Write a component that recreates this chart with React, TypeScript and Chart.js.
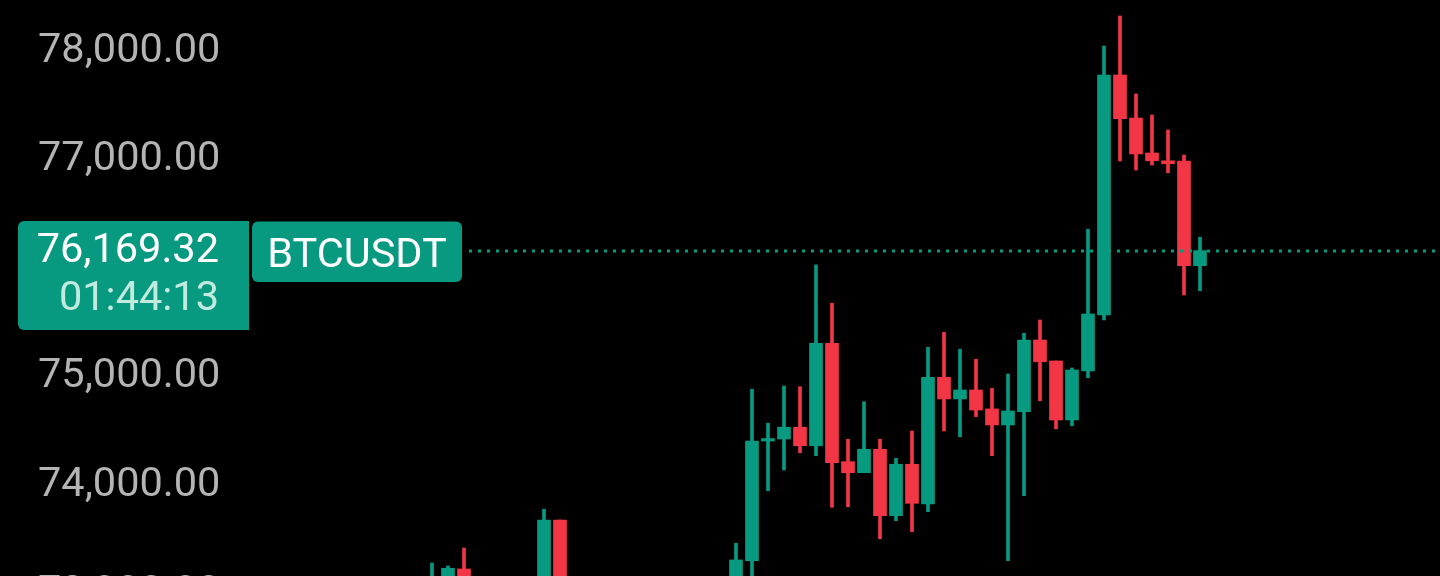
import React, { useEffect, useRef } from "react";
import { Chart, registerables } from "chart.js";

Chart.register(...registerables);

// Candle values (index 0 = leftmost candle visible in the picture)
const opens = [
  73050, 73100, 73238, 73100, 73000, 72900, 73020, 73080, 73689, 72980,
  72920, 72880, 72950, 73040, 72990, 73060, 73010, 73090, 73050, 73110,
  73314, 74417, 74436, 74544, 74374, 75318, 74227, 74125, 74341, 73729,
  74203, 73837, 75004, 74805, 74888, 74713, 74565, 74688, 75348, 75155,
  74611, 75063, 75579, 77791, 77394, 77072, 77000, 76998, 76033,
];
const highs = [
  73293, 73265, 73431, 73160, 73080, 73050, 73120, 73788, 73689, 73100,
  73050, 73000, 73100, 73150, 73080, 73140, 73120, 73160, 73150, 73475,
  74894, 74581, 74924, 74918, 76040, 75687, 74433, 74780, 74433, 74258,
  74510, 75281, 75419, 75263, 75171, 74903, 75035, 75410, 75533, 75155,
  75090, 76369, 78058, 78335, 77616, 77422, 77284, 77053, 76295,
];
const lows = [
  72980, 73020, 73050, 72950, 72850, 72800, 72950, 73050, 72900, 72850,
  72800, 72750, 72880, 72950, 72900, 72980, 72920, 73000, 72980, 73050,
  73150, 73959, 74150, 74310, 74282, 73806, 73812, 74125, 73517, 73683,
  73582, 73766, 74510, 74457, 74642, 74282, 73314, 73913, 74789, 74531,
  74558, 75001, 75533, 76998, 76915, 76961, 76890, 75763, 75803,
];
const closes = [
  73140, 73244, 73110, 73000, 72900, 73020, 73080, 73689, 72980, 72920,
  72880, 72950, 73040, 72990, 73060, 73010, 73090, 73050, 73110, 73321,
  74417, 74440, 74544, 74374, 75318, 74217, 74125, 74341, 73729, 74203,
  73843, 75004, 74805, 74888, 74703, 74565, 74694, 75348, 75148, 74611,
  75072, 75588, 77791, 77388, 77063, 77001, 76972, 76033, 76172,
];

const yTicks = [73000, 74000, 75000, 76000, 77000, 78000];
const symbol = "BTCUSDT";
const lastPrice = 76169.32;
const countdown = "01:44:13";

const GREEN = "#089981";
const RED = "#F23645";
const FONT = "Roboto";

const fmt = (v: number) =>
  v.toLocaleString("en-US", { minimumFractionDigits: 2, maximumFractionDigits: 2 });

const overlayPlugin = {
  id: "priceOverlay",
  afterDraw(chart: any) {
    const ctx = chart.ctx as CanvasRenderingContext2D;
    const y = chart.scales.y.getPixelForValue(lastPrice);
    ctx.save();
    // dotted last-price line
    ctx.strokeStyle = GREEN;
    ctx.lineWidth = 3;
    ctx.setLineDash([3, 6]);
    ctx.beginPath();
    ctx.moveTo(469, y);
    ctx.lineTo(1440, y);
    ctx.stroke();
    ctx.setLineDash([]);
    // price box
    ctx.fillStyle = GREEN;
    ctx.beginPath();
    (ctx as any).roundRect(18, y - 30, 231, 109, [6, 0, 0, 6]);
    ctx.fill();
    // symbol box
    ctx.beginPath();
    (ctx as any).roundRect(252, y - 29.5, 210, 60.5, 6);
    ctx.fill();
    ctx.font = `41.5px ${FONT}`;
    ctx.textBaseline = "alphabetic";
    ctx.textAlign = "right";
    ctx.fillStyle = "#ffffff";
    ctx.fillText(fmt(lastPrice), 219, y + 11);
    ctx.fillStyle = "#c2ebdf";
    ctx.fillText(countdown, 219, y + 59.3);
    ctx.textAlign = "center";
    ctx.fillStyle = "#ffffff";
    ctx.fillText(symbol, 357, y + 16);
    ctx.restore();
  },
};

export default function App() {
  const canvasRef = useRef<HTMLCanvasElement | null>(null);

  useEffect(() => {
    if (!canvasRef.current) return;
    const colors = opens.map((o, i) => (closes[i] >= o ? GREEN : RED));
    const chart = new Chart(canvasRef.current, {
      type: "bar",
      data: {
        datasets: [
          {
            label: "wick",
            data: opens.map((_, i) => ({ x: i, y: [lows[i], highs[i]] })) as any,
            backgroundColor: colors,
            barThickness: 3,
            borderWidth: 0,
            grouped: false,
            order: 2,
          } as any,
          {
            label: "body",
            data: opens.map((o, i) => ({ x: i, y: [o, closes[i]] })) as any,
            backgroundColor: colors,
            barThickness: 13,
            borderWidth: 0,
            minBarLength: 2.5,
            grouped: false,
            order: 1,
          } as any,
        ],
      },
      options: {
        animation: false,
        responsive: false,
        devicePixelRatio: 1,
        layout: { padding: 0, autoPadding: false },
        plugins: { legend: { display: false }, tooltip: { enabled: false } },
        scales: {
          x: {
            type: "linear",
            min: -27,
            max: 63,
            display: false,
            offset: false,
          },
          y: {
            type: "linear",
            position: "left",
            min: 73173,
            max: 78482,
            grid: { display: false, drawTicks: false },
            border: { display: false },
            afterBuildTicks: (axis: any) => {
              axis.ticks = yTicks.map((v) => ({ value: v }));
            },
            afterFit: (axis: any) => {
              axis.width = 0;
              axis.paddingTop = 0;
              axis.paddingBottom = 0;
              axis.paddingLeft = 0;
              axis.paddingRight = 0;
            },
            ticks: {
              mirror: true,
              padding: 38,
              crossAlign: "near",
              labelOffset: -1,
              autoSkip: false,
              color: "#b4b4b4",
              font: { family: FONT, size: 41.5 },
              callback: (v: any) => fmt(Number(v)),
            },
          } as any,
        },
      } as any,
      plugins: [overlayPlugin],
    });
    return () => chart.destroy();
  }, []);

  return (
    <div
      style={{
        position: "fixed",
        left: 0,
        top: 0,
        width: 1440,
        height: 576,
        background: "#000",
        overflow: "hidden",
      }}
    >
      <canvas ref={canvasRef} width={1440} height={576} style={{ display: "block" }} />
    </div>
  );
}
